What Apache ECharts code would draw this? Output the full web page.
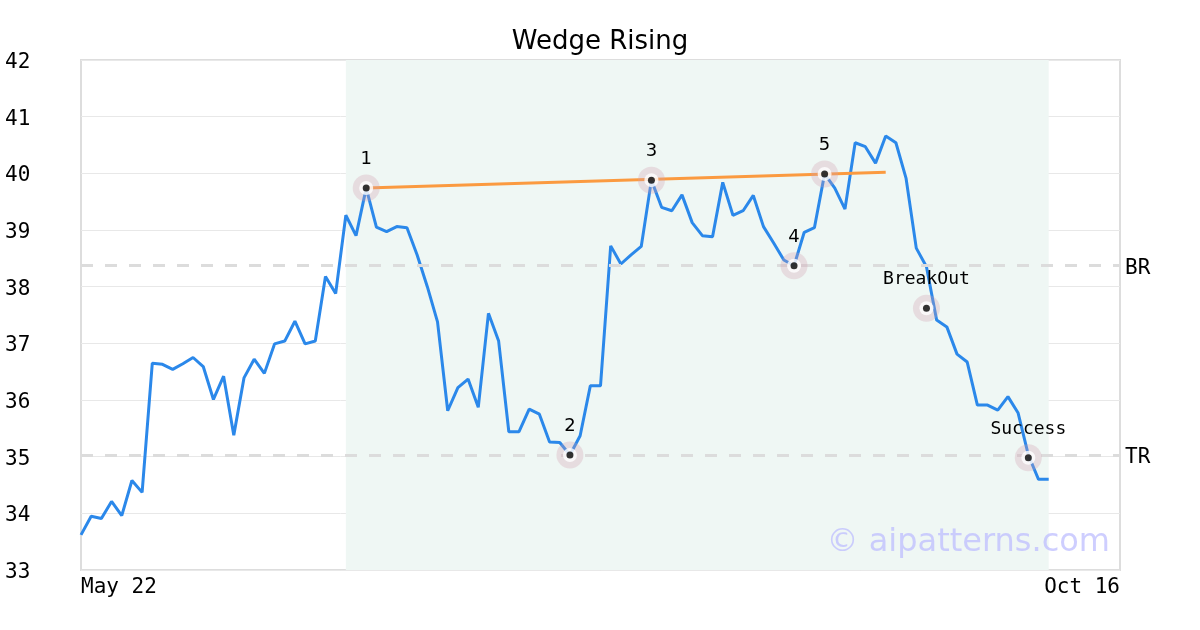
<!DOCTYPE html>
<html>
<head>
<meta charset="utf-8">
<script src="https://cdn.jsdelivr.net/npm/echarts@6/dist/echarts.min.js"></script>
<style>html,body{margin:0;padding:0;background:#fff}#c{width:1200px;height:630px}</style>
</head>
<body>
<div id="c"></div>
<script>
var tickLabels = ['May 22', 'Oct 16'];
var categoryCount = 103;
var prices = [33.62,33.95,33.91,34.21,33.96,34.58,34.37,36.65,36.63,36.54,
  36.64,36.75,36.59,36.01,36.42,35.38,36.39,36.72,36.47,36.99,
  37.04,37.39,36.99,37.04,38.18,37.88,39.26,38.90,39.74,39.05,
  38.97,39.06,39.04,38.56,38.00,37.38,35.81,36.22,36.37,35.87,
  37.53,37.04,35.44,35.44,35.84,35.75,35.26,35.25,35.03,35.37,
  36.25,36.25,38.72,38.40,38.56,38.71,39.88,39.40,39.34,39.62,
  39.13,38.90,38.88,39.84,39.26,39.34,39.61,39.06,38.77,38.47,
  38.37,38.96,39.04,39.99,39.74,39.37,40.54,40.47,40.18,40.66,
  40.54,39.91,38.68,38.35,37.41,37.29,36.81,36.67,35.91,35.91,
  35.82,36.06,35.77,35.03,34.60,34.60];
var markerIdx = [28, 48, 56, 70, 73, 83, 93];
var markerVal = [39.74, 35.03, 39.88, 38.37, 39.99, 37.62, 34.98];
var markerText = ['1', '2', '3', '4', '5', 'BreakOut', 'Success'];
var trendIdx = [28, 79];
var trendVal = [39.74, 40.02];
var levelNames = ['BR', 'TR'];
var levelVals = [38.37, 35.03];
var shadeRange = [26, 95];

var categories = [];
for (var i = 0; i < categoryCount; i++) {
  categories.push(i === 0 ? tickLabels[0] : (i === categoryCount - 1 ? tickLabels[1] : String(i)));
}
var mono = 'DejaVu Sans Mono';
var sans = 'DejaVu Sans';

function pts(idx, vals) { return idx.map(function (x, k) { return [x, vals[k]]; }); }

var dotData = markerIdx.map(function (x, k) {
  var isWord = markerText[k].length > 1;
  return {
    value: [x, markerVal[k]],
    label: {
      show: true, position: 'top', distance: 16, formatter: markerText[k],
      fontFamily: isWord ? mono : sans, fontSize: 18, color: '#000',
      textBorderWidth: 0, opacity: 1
    }
  };
});

var chart = echarts.init(document.getElementById('c'), null, {renderer: 'canvas'});
chart.setOption({
  animation: false,
  title: {
    text: 'Wedge Rising', left: 'center', top: 24,
    textStyle: {fontFamily: sans, fontSize: 26, fontWeight: 'normal', color: '#000'}
  },
  grid: {left: 81, right: 80, top: 60, bottom: 60, show: true, borderColor: '#dddddd', borderWidth: 2, backgroundColor: 'transparent'},
  xAxis: {
    type: 'category', data: categories, boundaryGap: false,
    axisLine: {show: false}, axisTick: {show: false}, splitLine: {show: false},
    axisLabel: {
      interval: function (i) { return i === 0 || i === categoryCount - 1; },
      fontFamily: mono, fontSize: 21, color: '#000', margin: 7,
      alignMinLabel: 'left', alignMaxLabel: 'right', showMinLabel: true, showMaxLabel: true
    }
  },
  yAxis: {
    type: 'value', min: 33, max: 42, interval: 1,
    axisLine: {show: false}, axisTick: {show: false},
    splitLine: {show: true, lineStyle: {color: '#e8e8e8', width: 1}},
    axisLabel: {
      align: 'left', margin: 76,
      formatter: '{a|{value}}',
      rich: {a: {fontFamily: mono, fontSize: 21, color: '#000', padding: [5, 0, 0, 0]}}
    }
  },
  graphic: [{
    type: 'text', right: 90, top: 527, z: 100,
    style: {text: '\u00a9 aipatterns.com', fontFamily: sans, fontSize: 32, fill: 'rgba(190,190,255,0.75)'}
  }],
  series: [
    {
      type: 'line', data: prices, showSymbol: false, symbol: 'none', z: 3,
      lineStyle: {color: '#2b88ea', width: 3},
      markArea: {
        silent: true, itemStyle: {color: '#eff7f4'},
        data: [[{xAxis: shadeRange[0]}, {xAxis: shadeRange[1]}]]
      },
      markLine: {
        silent: true, symbol: 'none',
        lineStyle: {color: '#dcdcdc', width: 3, type: [12, 12]},
        label: {position: 'end', distance: 5, rich: {a: {fontFamily: mono, fontSize: 21, color: '#000', padding: [5, 0, 0, 0]}}},
        data: levelVals.map(function (v, k) { return {yAxis: v, label: {formatter: '{a|' + levelNames[k] + '}'}}; })
      }
    },
    {
      type: 'line', data: pts(trendIdx, trendVal), showSymbol: false, symbol: 'none', z: 4,
      lineStyle: {color: '#fb9a40', width: 3}
    },
    {
      type: 'scatter', data: pts(markerIdx, markerVal), symbolSize: 27, z: 5,
      itemStyle: {color: 'rgba(210,160,178,0.38)'}
    },
    {
      type: 'scatter', data: pts(markerIdx, markerVal), symbolSize: 14, z: 6,
      itemStyle: {color: '#ffffff'}
    },
    {
      type: 'scatter', data: dotData, symbolSize: 7, z: 7,
      itemStyle: {color: '#000000'}
    }
  ]
});
</script>
</body>
</html>
